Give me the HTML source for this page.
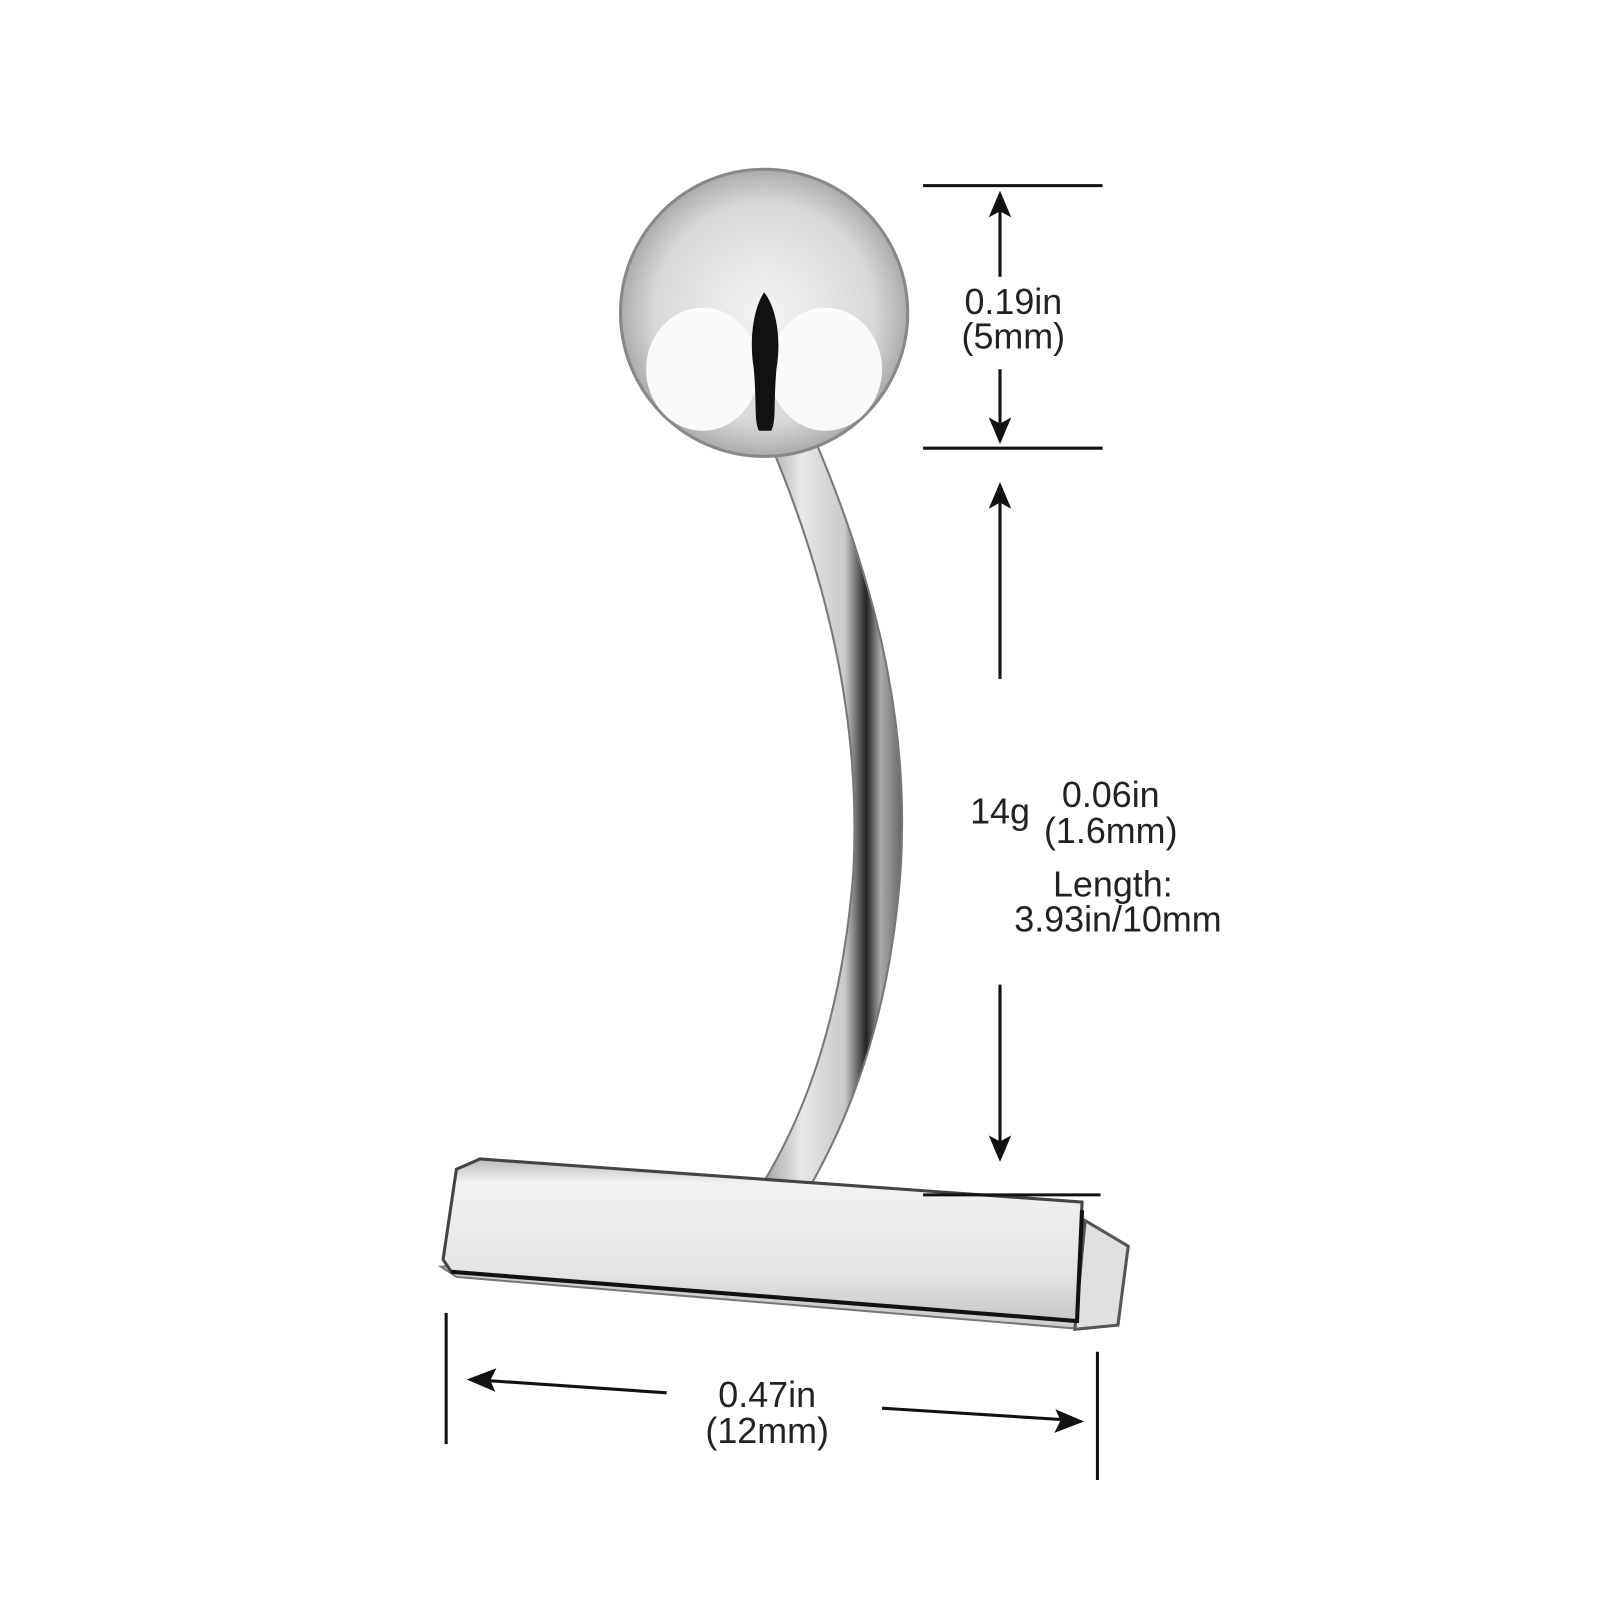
<!DOCTYPE html>
<html><head><meta charset="utf-8"><style>
html,body{margin:0;padding:0;background:#fff;}
svg{display:block}
text{font-family:"Liberation Sans",sans-serif;font-size:35px;fill:#222;text-anchor:middle}
</style></head><body>
<svg width="1600" height="1600" viewBox="0 0 1560 1560" xmlns="http://www.w3.org/2000/svg">
<defs>
<radialGradient id="ball" cx="0.5" cy="0.5" r="0.55">
<stop offset="0" stop-color="#f4f4f4"/><stop offset="0.7" stop-color="#d8d8d8"/><stop offset="0.92" stop-color="#a9a9a9"/><stop offset="1" stop-color="#7a7a7a"/>
</radialGradient>
<linearGradient id="stem" x1="0" x2="1" y1="0" y2="0">
<stop offset="0" stop-color="#9a9a9a"/><stop offset="0.3" stop-color="#e8e8e8"/><stop offset="0.6" stop-color="#c9c9c9"/><stop offset="0.75" stop-color="#222"/><stop offset="0.85" stop-color="#aaa"/><stop offset="1" stop-color="#666"/>
</linearGradient>
<linearGradient id="bar" x1="0" x2="0" y1="0" y2="1">
<stop offset="0" stop-color="#bdbdbd"/><stop offset="0.15" stop-color="#f2f2f2"/><stop offset="0.7" stop-color="#e4e4e4"/><stop offset="1" stop-color="#c8c8c8"/>
</linearGradient>
</defs>
<path d="M750,430 C805,560 840,700 832,850 C822,980 790,1080 740,1160 L785,1165 C835,1080 868,980 878,850 C888,700 850,560 795,430 Z" fill="url(#stem)" stroke="#777" stroke-width="2"/>
<circle cx="745" cy="305" r="140" fill="url(#ball)" stroke="#888" stroke-width="3"/>
<ellipse cx="685" cy="360" rx="55" ry="60" fill="#fafafa"/>
<ellipse cx="805" cy="360" rx="55" ry="60" fill="#fafafa"/>
<path d="M745,285 C735,300 730,330 735,360 C738,395 735,410 740,420 L752,420 C757,410 754,395 757,360 C762,330 757,300 745,285 Z" fill="#111"/>
<path d="M430,1235 L445,1245 L1045,1295 L1090,1292 L1100,1218 L1058,1190 Z" fill="#cfcfcf" stroke="#777" stroke-width="2"/>
<path d="M1058,1190 L1100,1215 L1090,1292 L1048,1296 Z" fill="#e0e0e0" stroke="#555" stroke-width="3"/>
<path d="M445,1140 L468,1130 L1055,1172 L1050,1288 L440,1240 L432,1228 Z" fill="url(#bar)" stroke="#444" stroke-width="3"/>
<line x1="440" y1="1240" x2="1050" y2="1288" stroke="#111" stroke-width="4"/>
<line x1="1055" y1="1180" x2="1050" y2="1290" stroke="#111" stroke-width="4"/>
<g stroke="#111" stroke-width="3" fill="#111">
<line x1="900" y1="181" x2="1075" y2="181"/>
<line x1="900" y1="437" x2="1075" y2="437"/>
<line x1="975" y1="190" x2="975" y2="270"/>
<line x1="975" y1="360" x2="975" y2="430"/>
<path d="M975,186 L964,212 L975,206 L986,212 Z" stroke="none"/>
<path d="M975,433 L964,407 L975,413 L986,407 Z" stroke="none"/>
<line x1="975" y1="475" x2="975" y2="662"/>
<path d="M975,470 L964,496 L975,490 L986,496 Z" stroke="none"/>
<line x1="975" y1="960" x2="975" y2="1125"/>
<path d="M975,1133 L964,1107 L975,1113 L986,1107 Z" stroke="none"/>
<line x1="900" y1="1165" x2="1073" y2="1165"/>
<line x1="435" y1="1280" x2="435" y2="1408"/>
<line x1="1070" y1="1318" x2="1070" y2="1443"/>
<line x1="460" y1="1345" x2="650" y2="1358"/>
<path d="M455,1345 L484,1334 L478,1346 L483,1357 Z" stroke="none"/>
<line x1="860" y1="1373" x2="1050" y2="1385"/>
<path d="M1057,1386 L1028,1397 L1034,1385 L1029,1374 Z" stroke="none"/>
</g>
<text x="988" y="306">0.19in</text>
<text x="988" y="340">(5mm)</text>
<text x="975" y="803">14g</text>
<text x="1083" y="787">0.06in</text>
<text x="1083" y="822">(1.6mm)</text>
<text x="1085" y="874">Length:</text>
<text x="1090" y="908">3.93in/10mm</text>
<text x="748" y="1372">0.47in</text>
<text x="748" y="1407">(12mm)</text>
</svg>
</body></html>
